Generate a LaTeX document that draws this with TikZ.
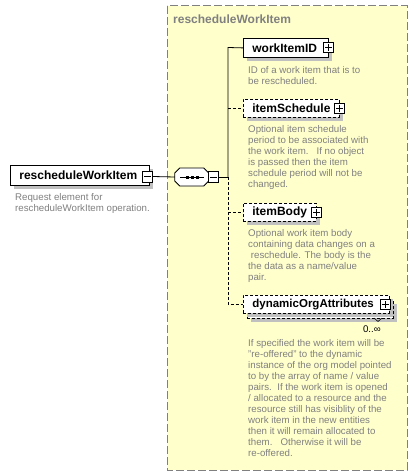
\documentclass[tikz,border=0pt]{standalone}
\usepackage{fontspec}
\setmainfont{Liberation Sans}
\usetikzlibrary{shadows}
\definecolor{boxyellow}{HTML}{FFFFCC}
\definecolor{txtgray}{HTML}{808080}
\definecolor{shadowgray}{HTML}{C0C0C0}
\begin{document}
\begin{tikzpicture}[x=1pt,y=-1pt,
  groupbox/.style={draw=txtgray, fill=boxyellow, line width=1pt, dash pattern=on 8pt off 3pt},
  grouptitle/.style={text=txtgray, font=\bfseries\fontsize{12}{14}\selectfont, anchor=west, inner sep=0pt},
  elem/.style={draw=black, fill=white, line width=0.8pt, font=\bfseries\fontsize{12}{14}\selectfont,
    inner xsep=9pt, inner ysep=0pt, anchor=north west, align=left,
    drop shadow={shadow xshift=4pt, shadow yshift=-4pt, fill=shadowgray, opacity=1}},
  optelem/.style={elem, dash pattern=on 3pt off 2pt},
  pmbox/.style={draw=black, fill=white, line width=0.8pt, minimum size=10pt, inner sep=0pt},
  seqarea/.style={minimum width=34pt, minimum height=18pt, inner sep=0pt},
  desc/.style={text=txtgray, font=\fontsize{9.7}{11}\selectfont, align=left, anchor=north west, inner sep=0pt},
  conn/.style={draw=black, line width=0.8pt},
  optconn/.style={conn, dash pattern=on 3pt off 2pt}
]
\useasboundingbox (0,0) rectangle (417,476);
\fill[white] (0,0) rectangle (417,476);

% group box
\draw[groupbox] (167,6) rectangle (407,470);
\node[grouptitle] (title) at (173,19) {rescheduleWorkItem};

% root element
\node[elem, text width=121pt, minimum height=20pt] (root) at (10,165) {rescheduleWorkItem};
\node[pmbox, minimum height=11pt] (rootpm) at (147.5,176.5) {};
\draw[line width=0.8pt] (rootpm.center) +(-3.5,0) -- +(3.5,0);
\node[desc] (rootdesc) at (15,193) {Request element for\\rescheduleWorkItem operation.};

% sequence compositor
\node[seqarea] (seq) at (192,177) {};
\fill[shadowgray, shift={(4,4)}]
  (seq.west) ++(0,-4) -- ++(5,-5) -- ++(24,0) -- ++(5,5) -- ++(0,8) -- ++(-5,5) -- ++(-24,0) -- ++(-5,-5) -- cycle;
\draw[line width=0.8pt, fill=white]
  (seq.west) ++(0,-4) -- ++(5,-5) -- ++(24,0) -- ++(5,5) -- ++(0,8) -- ++(-5,5) -- ++(-24,0) -- ++(-5,-5) -- cycle;
\draw[line width=0.8pt] (seq.center) +(-12,0) -- +(12,0);
\foreach \dx in {-5,0,5} \fill (seq.center) ++(\dx,0) ++(-1.5,-1.5) rectangle ++(3,3);
\node[pmbox, minimum height=11pt] (seqpm) at (213.5,177) {};
\draw[line width=0.8pt] (seqpm.center) +(-3.5,0) -- +(3.5,0);

% children
\node[elem, text width=67pt, minimum height=19pt] (wid) at (243,38) {workItemID};
\node[pmbox] (widpm) at (wid.east) {};
\node[desc] (widdesc) at (248,66) {ID of a work item that is to\\be rescheduled.};

\node[optelem, text width=78pt, minimum height=18pt] (sched) at (243,99) {itemSchedule};
\node[pmbox] (schedpm) at (sched.east) {};
\node[desc] (scheddesc) at (248,125) {Optional item schedule\\period to be associated with\\the work item.\ \ \ If no object\\is passed then the item\\schedule period will not be\\changed.};

\node[optelem, text width=55pt, minimum height=18pt] (body) at (243,203) {itemBody};
\node[pmbox] (bodypm) at (body.east) {};
\node[desc] (bodydesc) at (248,229) {Optional work item body\\containing data changes on a\\\ reschedule. The body is the\\the data as a name/value\\pair.};

\node[optelem, text width=128pt, minimum height=18pt] (dynback) at (247,300) {};
\draw[line width=0.6pt] (374,318) -- (378,321.5) -- (382,318);
\node[optelem, drop shadow={opacity=0}, text width=128pt, minimum height=18pt,
  font=\bfseries\fontsize{11.5}{14}\selectfont] (dyn) at (243,295) {dynamicOrgAttributes};
\node[pmbox] (dynpm) at (385,304.5) {};
\node[inner sep=0pt, font=\fontsize{9.7}{11}\selectfont, anchor=east] (dynocc) at (381,329) {0..∞};
\node[desc] (dyndesc) at (248,339) {If specified the work item will be\\"re-offered" to the dynamic\\instance of the org model pointed\\to by the array of name / value\\pairs.\ \ If the work item is opened\\/ allocated to a resource and the\\resource still has visiblity of the\\work item in the new entities\\then it will remain allocated to\\them.\ \ \ Otherwise it will be\\re-offered.};

% plus signs
\foreach \n in {widpm,schedpm,bodypm,dynpm}
  \draw[line width=0.8pt] (\n.center) +(-3.5,0) -- +(3.5,0) (\n.center) +(0,-3.5) -- +(0,3.5);

% connectors
\coordinate (junc) at (228,177);
\coordinate (vtop) at (228,47.5);
\draw[conn] (rootpm.east) -- (seq.west);
\draw[conn] (seqpm.east) -- (junc);
\draw[conn] (junc) -- (vtop) -- (wid.west);
\draw[optconn] (sched.west -| junc) -- (sched.west);
\draw[optconn] (junc) |- (dyn.west);
\draw[optconn] (body.west -| junc) -- (body.west);
\end{tikzpicture}
\end{document}
